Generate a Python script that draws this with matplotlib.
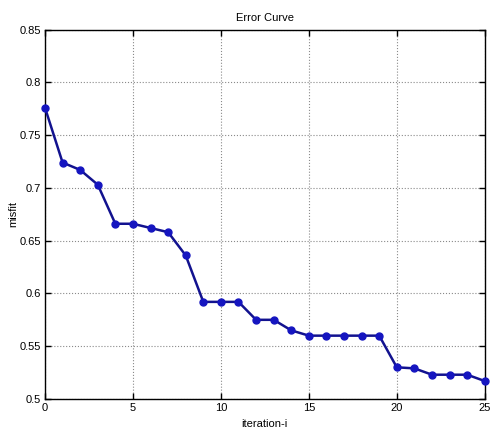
import matplotlib
matplotlib.use("Agg")
import matplotlib.pyplot as plt

plt.rcParams['font.family'] = ['Liberation Sans', 'DejaVu Sans']

iterations = list(range(26))
misfit = [0.776, 0.724, 0.717, 0.703, 0.666, 0.666, 0.662, 0.658, 0.636,
          0.592, 0.592, 0.592, 0.575, 0.575, 0.565, 0.560, 0.560, 0.560,
          0.560, 0.560, 0.530, 0.529, 0.523, 0.523, 0.523, 0.517]
x_ticks = [0, 5, 10, 15, 20, 25]
y_ticks = [0.5, 0.55, 0.6, 0.65, 0.7, 0.75, 0.8, 0.85]
y_tick_labels = ['0.5', '0.55', '0.6', '0.65', '0.7', '0.75', '0.8', '0.85']

fig = plt.figure(figsize=(4.9, 4.28), dpi=100)
ax = fig.add_axes([0.0918, 0.0678, 0.8975, 0.8632])

ax.plot(iterations, misfit, color='#12128f', linewidth=1.8, marker='o',
        markersize=5, markerfacecolor='#1515c0', markeredgecolor='#1515c0',
        clip_on=False, zorder=3)

ax.set_xlim(0, 25)
ax.set_ylim(0.5, 0.85)
ax.set_xticks(x_ticks)
ax.set_yticks(y_ticks)
ax.set_yticklabels(y_tick_labels)
ax.grid(True, linestyle=':', color='#8a8a8a', linewidth=0.8)
ax.tick_params(direction='in', top=True, right=True, length=4, width=1,
               labelsize=8, pad=3)
for s in ax.spines.values():
    s.set_linewidth(1.0)

ax.set_title('Error Curve', fontsize=8, pad=6)
ax.set_xlabel('iteration-i', fontsize=8, labelpad=4)
ax.set_ylabel('misfit', fontsize=8, labelpad=1)

fig.savefig('out.png', dpi=100)
